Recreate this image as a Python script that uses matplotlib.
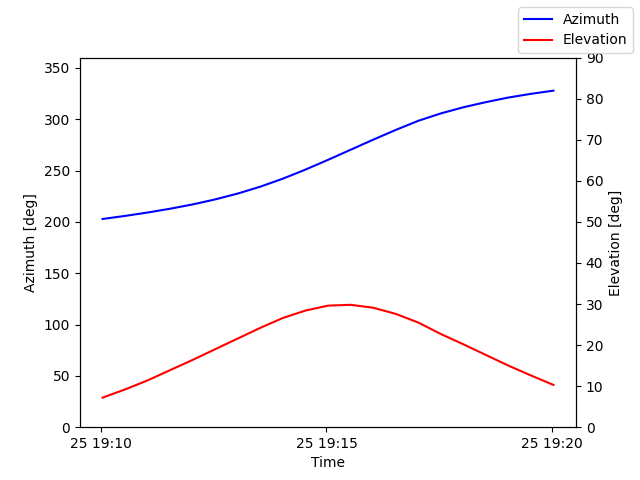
import datetime as dt
import matplotlib
matplotlib.use("Agg")
import matplotlib.pyplot as plt
import matplotlib.dates as mdates

# pass samples, one every 30 s
times = ["19:10:02", "19:10:32", "19:11:02", "19:11:32", "19:12:02", "19:12:32",
         "19:13:02", "19:13:32", "19:14:02", "19:14:32", "19:15:02", "19:15:32",
         "19:16:02", "19:16:32", "19:17:02", "19:17:32", "19:18:02", "19:18:32",
         "19:19:02", "19:19:32", "19:20:02"]
azimuth = [202.8, 205.8, 209.1, 212.8, 217.0, 221.9, 227.6, 234.3, 242.1, 250.9,
           260.4, 270.2, 280.0, 289.5, 298.4, 305.6, 311.6, 316.6, 321.1, 324.7, 327.8]
elevation = [7.2, 9.2, 11.4, 13.9, 16.4, 19.0, 21.6, 24.2, 26.6, 28.4,
             29.6, 29.8, 29.1, 27.6, 25.5, 22.7, 20.2, 17.6, 15.0, 12.6, 10.3]

t = [dt.datetime.strptime("2023-03-25 " + s, "%Y-%m-%d %H:%M:%S") for s in times]

fig, ax1 = plt.subplots(figsize=(6.4, 4.8), dpi=100)
ax1.plot(t, azimuth, color="b", label="Azimuth")
ax1.set_ylim(0, 360)
ax1.set_xlabel("Time")
ax1.set_ylabel("Azimuth [deg]")

ax2 = ax1.twinx()
ax2.plot(t, elevation, color="r", label="Elevation")
ax2.set_ylim(0, 90)
ax2.set_ylabel("Elevation [deg]")

ax1.xaxis.set_major_locator(mdates.MinuteLocator(byminute=[10, 15, 20]))
ax1.xaxis.set_major_formatter(mdates.DateFormatter("%d %H:%M"))

fig.legend(loc="upper right")
fig.savefig("out.png")
